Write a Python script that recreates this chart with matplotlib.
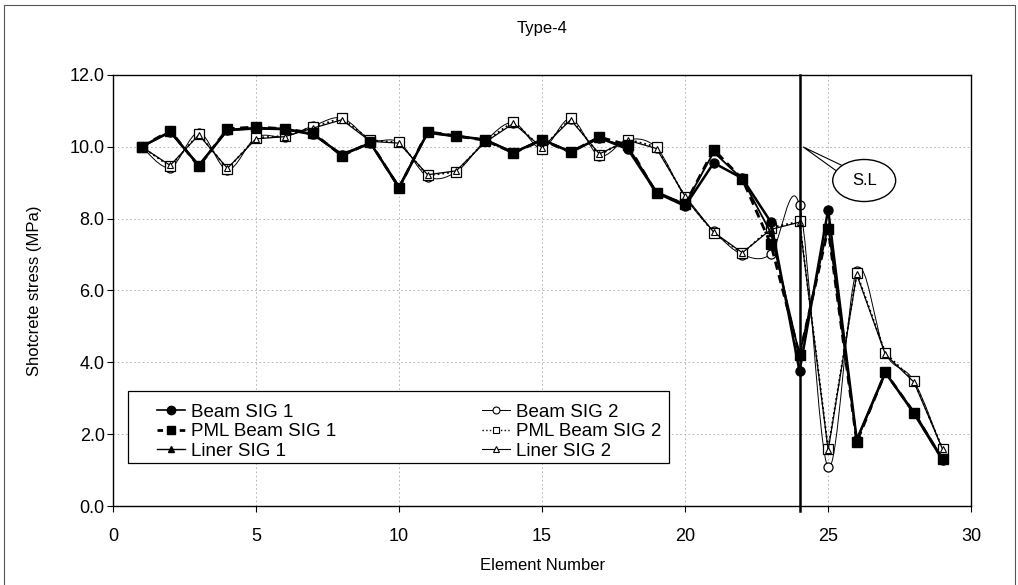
import numpy as np
import matplotlib
matplotlib.use("Agg")
import matplotlib.pyplot as plt
from matplotlib.path import Path
from matplotlib.patches import PathPatch, Ellipse, Rectangle
from matplotlib.lines import Line2D

plt.rcParams['font.family'] = ['Liberation Sans', 'DejaVu Sans']

# ---------------- data ----------------
elements = list(range(1, 30))
beam_sig1 = [10.0, 10.42, 9.47, 10.47, 10.52, 10.5, 10.35, 9.77, 10.1, 8.86,
             10.4, 10.3, 10.2, 9.83, 10.2, 9.85, 10.25, 9.93, 8.72, 8.35,
             9.55, 9.12, 7.9, 3.75, 8.25, 1.85, 3.72, 2.58, 1.28]
pml_sig1 = [10.0, 10.45, 9.45, 10.5, 10.55, 10.5, 10.38, 9.75, 10.12, 8.86,
            10.42, 10.3, 10.18, 9.83, 10.18, 9.85, 10.27, 10.05, 8.7, 8.4,
            9.92, 9.1, 7.28, 4.2, 7.72, 1.78, 3.72, 2.6, 1.3]
liner_sig1 = [10.0, 10.4, 9.5, 10.45, 10.5, 10.48, 10.33, 9.8, 10.1, 8.9,
              10.38, 10.28, 10.2, 9.85, 10.2, 9.87, 10.23, 10.0, 8.75, 8.4,
              9.85, 9.1, 7.6, 4.2, 7.8, 1.82, 3.7, 2.62, 1.32]
beam_sig2 = [10.0, 9.42, 10.39, 9.36, 10.26, 10.28, 10.58, 10.8, 10.2, 10.12,
             9.17, 9.3, 10.15, 10.67, 9.95, 10.78, 9.75, 10.2, 9.97, 8.6,
             7.65, 7.0, 7.02, 8.37, 1.08, 6.55, 4.25, 3.48, 1.55]
pml_sig2 = [10.0, 9.45, 10.36, 9.38, 10.25, 10.3, 10.55, 10.8, 10.18, 10.12,
            9.2, 9.3, 10.15, 10.7, 9.95, 10.8, 9.77, 10.2, 10.0, 8.6,
            7.6, 7.03, 7.75, 7.92, 1.6, 6.48, 4.26, 3.48, 1.6]
liner_sig2 = [10.0, 9.48, 10.33, 9.4, 10.22, 10.28, 10.52, 10.75, 10.15, 10.1,
              9.22, 9.33, 10.12, 10.65, 9.97, 10.75, 9.8, 10.18, 9.95, 8.62,
              7.62, 7.05, 7.7, 7.9, 1.55, 6.45, 4.22, 3.45, 1.58]
labels = ["Beam SIG 1", "PML Beam SIG 1", "Liner SIG 1",
          "Beam SIG 2", "PML Beam SIG 2", "Liner SIG 2"]
title = "Type-4"
xlabel = "Element Number"
ylabel = "Shotcrete stress (MPa)"
sl_x = 24
sl_label = "S.L"

# ---------------- figure ----------------
fig = plt.figure(figsize=(10.18, 5.85), dpi=100)
ax = fig.add_axes([0.111, 0.135, 0.843, 0.737])

# outer chart border
fig.patches.append(Rectangle((0.004, -0.01), 0.993, 1.001, transform=fig.transFigure,
                             fill=False, ec='#555555', lw=0.8))


def smooth_path(x, y):
    x = np.asarray(x, float); y = np.asarray(y, float)
    n = len(x)
    verts = [(x[0], y[0])]
    codes = [Path.MOVETO]
    for i in range(n - 1):
        p0 = np.array([x[max(i - 1, 0)], y[max(i - 1, 0)]])
        p1 = np.array([x[i], y[i]])
        p2 = np.array([x[i + 1], y[i + 1]])
        p3 = np.array([x[min(i + 2, n - 1)], y[min(i + 2, n - 1)]])
        c1 = p1 + (p2 - p0) / 6.0
        c2 = p2 - (p3 - p1) / 6.0
        verts += [tuple(c1), tuple(c2), tuple(p2)]
        codes += [Path.CURVE4] * 3
    return Path(verts, codes)

k = 'black'
# SIG 1 series
ax.plot(elements, beam_sig1, '-', color=k, lw=1.8, marker='o', ms=6.5, mfc=k, mec=k, zorder=4)
ax.plot(elements, pml_sig1, '--', color=k, lw=2.0, marker='s', ms=7, mfc=k, mec=k, zorder=4,
        dashes=(3, 2))
ax.plot(elements, liner_sig1, '-', color=k, lw=1.3, marker='^', ms=5, mfc=k, mec=k, zorder=4)
# SIG 2 series
ax.add_patch(PathPatch(smooth_path(elements, beam_sig2), fill=False, ec=k, lw=0.7, zorder=3))
ax.plot(elements, beam_sig2, 'none', marker='o', ms=6.5, mfc='white', mec=k, mew=0.9, zorder=3)
ax.plot(elements, pml_sig2, ':', color=k, lw=1.3, marker='s', ms=7, mfc='white', mec=k, mew=0.9, zorder=3)
ax.plot(elements, liner_sig2, '-', color=k, lw=0.9, marker='^', ms=5, mfc='white', mec=k, mew=0.8, zorder=3)

# vertical S.L line
ax.axvline(sl_x, ymin=-0.012, ymax=1.0, color=k, lw=1.8, zorder=5, clip_on=False)

# callout
ax.annotate('', xy=(sl_x + 0.05, 10.03), xytext=(25.6, 9.3),
            arrowprops=dict(arrowstyle='wedge,tail_width=0.6,shrink_factor=0.5',
                            fc='white', ec=k, lw=0.8), zorder=6)
ax.add_patch(Ellipse((26.26, 9.06), 2.2, 1.17, fc='white', ec=k, lw=1.0, zorder=7))
ax.text(26.26, 9.06, sl_label, ha='center', va='center', fontsize=12, zorder=8)

# axes styling
ax.set_xlim(0, 30)
ax.set_ylim(0, 12)
ax.set_xticks(range(0, 31, 5))
ax.set_yticks(np.arange(0, 12.1, 2))
ax.set_yticklabels([f"{v:.1f}" for v in np.arange(0, 12.1, 2)])
ax.grid(True, color='#aaaaaa', ls=(0, (2, 3)), lw=0.6)
ax.set_axisbelow(True)
for s in ax.spines.values():
    s.set_color(k); s.set_linewidth(1.0)
ax.tick_params(axis='both', direction='out', length=4, width=0.8, labelsize=13)
ax.tick_params(axis='x', pad=12)
ax.tick_params(axis='y', pad=2)

ax.set_title(title, fontsize=12, pad=30)
ax.set_xlabel(xlabel, fontsize=12, labelpad=9)
ax.set_ylabel(ylabel, fontsize=12, labelpad=20)

# legend (own frame + frameless legend inside)
ax.add_patch(Rectangle((0.0175, 0.0995), 0.63, 0.167, transform=ax.transAxes,
                       fc='white', ec=k, lw=0.9, zorder=9))
handles = [
    Line2D([], [], color=k, lw=1.2, marker='o', ms=6, mfc=k, mec=k),
    Line2D([], [], color=k, lw=2.0, ls='--', dashes=(2, 2), marker='s', ms=6, mfc=k, mec=k),
    Line2D([], [], color=k, lw=1.0, marker='^', ms=5, mfc=k, mec=k),
    Line2D([], [], color=k, lw=0.7, marker='o', ms=5, mfc='white', mec=k, mew=0.8),
    Line2D([], [], color=k, lw=1.0, ls=':', marker='s', ms=5, mfc='white', mec=k, mew=0.8),
    Line2D([], [], color=k, lw=0.8, marker='^', ms=5, mfc='white', mec=k, mew=0.8),
]
leg = ax.legend(handles, labels, ncol=2, loc='center left', mode='expand',
                bbox_to_anchor=(0.051, 0.112, 0.588, 0.12), fontsize=13.5,
                frameon=False, borderaxespad=0, handlelength=1.5,
                handletextpad=0.3, labelspacing=0.12, borderpad=0, columnspacing=1.0)
leg.set_zorder(10)

fig.savefig('out.png', dpi=100)
